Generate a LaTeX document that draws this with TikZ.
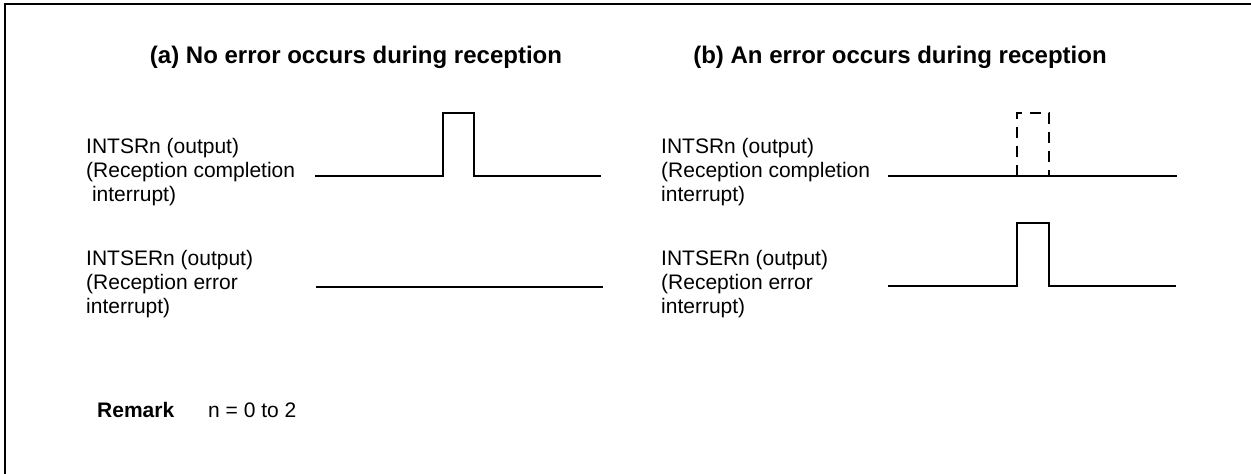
\documentclass[tikz,border=0pt]{standalone}
\usepackage{fontspec}
\setmainfont{Liberation Sans}
\begin{document}
\begin{tikzpicture}[x=1pt,y=-1pt,
  lbl/.style={anchor=west,align=left,inner sep=0pt,font=\fontsize{21}{24}\selectfont},
  ttl/.style={inner sep=0pt,font=\fontsize{24}{28}\selectfont\bfseries},
  sig/.style={line width=2.5pt,line join=miter},
  dsig/.style={line width=2.5pt,dash pattern=on 11pt off 8pt},
  frm/.style={line width=2.8pt}]
\useasboundingbox (0,0) rectangle (1251,474);
% frame (top and left edges visible)
\coordinate (fbl) at (5,480);
\coordinate (ftl) at (5,4);
\coordinate (ftr) at (1260,4);
\draw[frm] (fbl) -- (ftl) -- (ftr);
% titles
\node[ttl] (ta) at (356,57) {(a) No error occurs during reception};
\node[ttl] (tb) at (900,57) {(b) An error occurs during reception};
% labels (a)
\node[lbl] (la1) at (86,172) {INTSRn (output)\\(Reception completion\\\ interrupt)};
\node[lbl] (la2) at (86,284) {INTSERn (output)\\(Reception error\\interrupt)};
% labels (b)
\node[lbl] (lb1) at (661,172) {INTSRn (output)\\(Reception completion\\interrupt)};
\node[lbl] (lb2) at (661,284) {INTSERn (output)\\(Reception error\\interrupt)};
% signal (a) upper
\coordinate (a1s) at (315,176);
\coordinate (a1p) at (443,176);
\coordinate (a1q) at (474,176);
\coordinate (a1e) at (601,176);
\draw[sig] (a1s) -- (a1p) -- ++(0,-63) -| (a1q) -- (a1e);
% signal (a) lower
\coordinate (a2s) at (316,287);
\coordinate (a2e) at (603,287);
\draw[sig] (a2s) -- (a2e);
% signal (b) upper
\coordinate (b1s) at (888,176);
\coordinate (b1e) at (1177,176);
\coordinate (b1p) at (1017,176);
\coordinate (b1q) at (1049,176);
\draw[sig] (b1s) -- (b1e);
\draw[dsig] (b1p) -- ++(0,-63) -| (b1q);
% signal (b) lower
\coordinate (b2s) at (888,286);
\coordinate (b2p) at (1017,286);
\coordinate (b2q) at (1049,286);
\coordinate (b2e) at (1176,286);
\draw[sig] (b2s) -- (b2p) -- ++(0,-63) -| (b2q) -- (b2e);
% remark
\node[inner sep=0pt,anchor=west,font=\fontsize{21}{24}\selectfont\bfseries] (rm) at (97,410) {Remark};
\node[inner sep=0pt,anchor=west,font=\fontsize{21}{24}\selectfont] (rn) at (208,410) {n = 0 to 2};
\end{tikzpicture}
\end{document}
